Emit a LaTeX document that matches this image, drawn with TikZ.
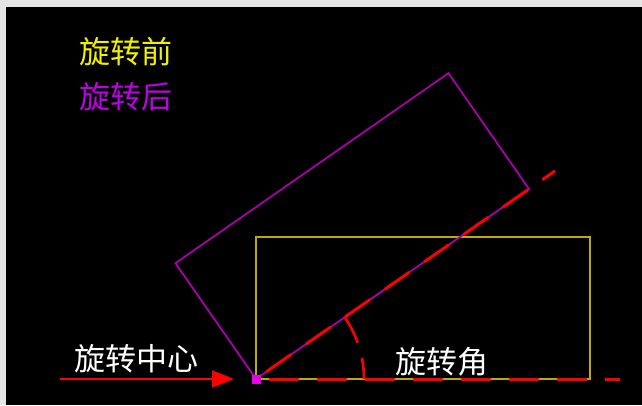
\documentclass[tikz,border=0pt]{standalone}
\usepackage{fontspec}
\newfontfamily\cjk{Noto Sans CJK SC}
\usetikzlibrary{arrows.meta}
\definecolor{ylw}{RGB}{190,170,0}
\definecolor{ylwtxt}{RGB}{240,240,0}
\definecolor{prp}{RGB}{170,0,170}
\definecolor{prptxt}{RGB}{190,0,230}
\definecolor{mag}{RGB}{230,0,230}
\tikzset{
  redline/.style={draw=red,line width=3pt,dash pattern=on 30pt off 18pt,dash phase=35pt},
  lbl/.style={font=\cjk\fontsize{31}{34}\selectfont,inner sep=0pt},
}
\begin{document}
\begin{tikzpicture}[x=1pt,y=1pt]
\fill[white!80!gray] (0,0) rectangle (642,405);
\fill[black] (6,0) rectangle (642,398);
\useasboundingbox (0,0) rectangle (642,405);
\coordinate (O) at (256,26);
\coordinate (Y1) at (590,26);
\coordinate (Y2) at (590,168);
\coordinate (Y3) at (256,168);
\coordinate (P1) at (529,216);
\coordinate (P2) at (448.5,331.8);
\coordinate (P3) at (175.5,141.8);
\coordinate (R) at (555,234);
\coordinate (H) at (620,26);
\coordinate (A) at (60,26);
\coordinate (AT) at (234,26);
% yellow rectangle
\draw[ylw,line width=2pt] (O) -- (Y1) -- (Y2) -- (Y3) -- cycle;
% purple rotated rectangle
\draw[prp,line width=1.8pt] (O) -- (P1) -- (P2) -- (P3) -- cycle;
% red dashed lines
\draw[redline] (O) -- (H);
\draw[redline] (O) -- (R);
\draw[red,line width=2.6pt,dash pattern=on 21pt off 16pt on 40pt] ([shift={(0:108)}]O) arc[start angle=0,end angle=34.8,radius=108];
% arrow to centre
\draw[red,line width=2pt,-{Triangle[length=22pt,width=17pt]}] (A) -- (AT);
\fill[mag] ([shift={(-4.5,-4.5)}]O) rectangle ([shift={(4.5,4.5)}]O);
% labels
\node[lbl,text=ylwtxt] (before) at (126,353) {旋转前};
\node[lbl,text=prptxt] (after) at (126,308) {旋转后};
\node[lbl,text=white] (center) at (136,46) {旋转中心};
\node[lbl,text=white] (angle) at (442,43) {旋转角};
\end{tikzpicture}
\end{document}
